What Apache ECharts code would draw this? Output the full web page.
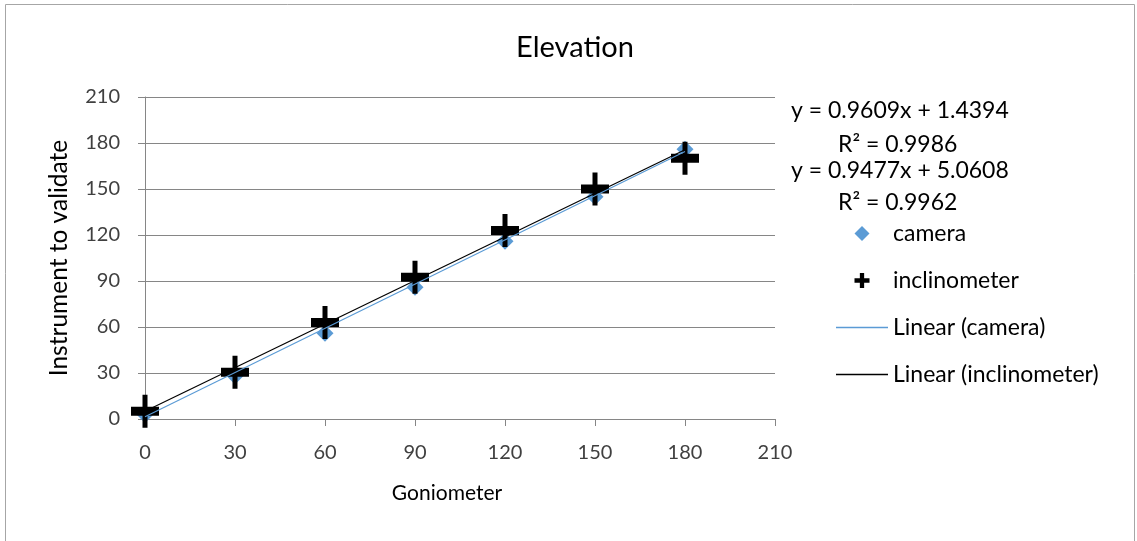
<!DOCTYPE html>
<html>
<head>
<meta charset="utf-8">
<title>Elevation</title>
<script src="https://cdn.jsdelivr.net/npm/echarts@6/dist/echarts.min.js"></script>
<style>
  html, body { margin: 0; padding: 0; background: #ffffff; }
  #chart { width: 1137px; height: 541px; }
</style>
</head>
<body>
<div id="chart"></div>
<script>
// Goniometer reference angles (x) and the readings of each instrument (y)
var goniometer   = [0, 30, 60, 90, 120, 150, 180];
var camera       = [3, 28, 56, 86, 116, 145, 176];
var inclinometer = [5, 30.5, 63, 92.5, 123, 150, 170];

// Linear fits: [slope, intercept, R²]
var cameraFit       = [0.9609, 1.4394, 0.9986];
var inclinometerFit = [0.9477, 5.0608, 0.9962];

// Axis ticks
var axisTicks = [0, 30, 60, 90, 120, 150, 180, 210];

var FONT = 'Lato, "Open Sans", sans-serif';
var BLUE = '#5b9bd5';

function pairs(xs, ys) {
  return xs.map(function (x, i) { return [x, ys[i]]; });
}
function fitLine(fit) {
  var x0 = goniometer[0], x1 = goniometer[goniometer.length - 1];
  return [[x0, fit[0] * x0 + fit[1]], [x1, fit[0] * x1 + fit[1]]];
}
function eqText(fit) {
  return 'y = ' + fit[0].toFixed(4) + 'x + ' + fit[1].toFixed(4);
}
function r2Text(fit) {
  return 'R\u00b2 = ' + fit[2].toFixed(4);
}

var crossPath = 'path://M11.5,0H16.5V12H28V21H16.5V33H11.5V21H0V12H11.5Z';
var crossIcon = 'path://M5,0H9V5H14V9H9V14H5V9H0V5H5Z';
var diamondIcon = 'path://M7,0L14,7L7,14L0,7Z';
var lineIcon = 'path://M0,0H52V1.3H0Z';

var chart = echarts.init(document.getElementById('chart'), null, { renderer: 'canvas' });

var axisCommon = {
  type: 'value',
  min: axisTicks[0],
  max: axisTicks[axisTicks.length - 1],
  interval: 30,
  axisLine: { show: true, lineStyle: { color: '#868686', width: 1 } },
  axisTick: { show: true, inside: false, length: 7, lineStyle: { color: '#868686' } },
  axisLabel: { color: '#404040', fontFamily: FONT, fontSize: 20 },
  nameTextStyle: { color: '#000000', fontFamily: FONT, fontSize: 21 }
};

var textFont = '23px ' + FONT;

chart.setOption({
  backgroundColor: '#ffffff',
  animation: false,
  title: {
    text: 'Elevation',
    left: 570,
    top: 28,
    textAlign: 'center',
    textStyle: { color: '#000000', fontFamily: FONT, fontSize: 29, fontWeight: 'normal' }
  },
  grid: { left: 145, right: 362, top: 97, bottom: 122, containLabel: false },
  xAxis: Object.assign({}, axisCommon, {
    name: 'Goniometer',
    nameLocation: 'middle',
    nameGap: 64,
    nameTextStyle: Object.assign({}, axisCommon.nameTextStyle, { padding: [0, 26, 0, 0] }),
    axisLabel: Object.assign({}, axisCommon.axisLabel, { margin: 24 }),
    splitLine: { show: false }
  }),
  yAxis: Object.assign({}, axisCommon, {
    name: 'Instrument to validate',
    nameLocation: 'middle',
    nameGap: 73,
    nameTextStyle: Object.assign({}, axisCommon.nameTextStyle, { fontSize: 24.5 }),
    axisLabel: Object.assign({}, axisCommon.axisLabel, { margin: 25 }),
    splitLine: { show: true, lineStyle: { color: '#868686', width: 1 } }
  }),
  legend: {
    orient: 'vertical',
    left: 831,
    top: 217,
    itemWidth: 52,
    itemHeight: 15,
    itemGap: 24,
    textStyle: { color: '#000000', fontFamily: FONT, fontSize: 23 },
    data: [
      { name: 'camera', icon: diamondIcon },
      { name: 'inclinometer', icon: crossIcon },
      { name: 'Linear (camera)', icon: lineIcon, itemStyle: { color: BLUE } },
      { name: 'Linear (inclinometer)', icon: lineIcon, itemStyle: { color: '#000000' } }
    ]
  },
  graphic: [
    {
      type: 'rect', silent: true, z: -1,
      shape: { x: 5.5, y: 4.5, width: 1129, height: 560 },
      style: { fill: 'none', stroke: '#a6a6a6', lineWidth: 1 }
    },
    {
      type: 'text', left: 791, top: 99,
      style: { text: eqText(cameraFit), fill: '#000000', font: textFont }
    },
    {
      type: 'text', left: 838, top: 133,
      style: { text: r2Text(cameraFit), fill: '#000000', font: textFont }
    },
    {
      type: 'text', left: 791, top: 159,
      style: { text: eqText(inclinometerFit), fill: '#000000', font: textFont }
    },
    {
      type: 'text', left: 838, top: 191,
      style: { text: r2Text(inclinometerFit), fill: '#000000', font: textFont }
    }
  ],
  series: [
    {
      name: 'camera',
      type: 'scatter',
      symbol: 'diamond',
      symbolSize: 17,
      itemStyle: { color: BLUE, opacity: 1 },
      data: pairs(goniometer, camera),
      z: 2
    },
    {
      name: 'inclinometer',
      type: 'scatter',
      symbol: crossPath,
      symbolSize: [28, 33],
      itemStyle: { color: '#000000', opacity: 1 },
      data: pairs(goniometer, inclinometer),
      z: 3
    },
    {
      name: 'Linear (camera)',
      type: 'line',
      symbol: 'none',
      lineStyle: { color: BLUE, width: 1.2 },
      itemStyle: { color: BLUE },
      data: fitLine(cameraFit),
      z: 4
    },
    {
      name: 'Linear (inclinometer)',
      type: 'line',
      symbol: 'none',
      lineStyle: { color: '#000000', width: 1.2 },
      itemStyle: { color: '#000000' },
      data: fitLine(inclinometerFit),
      z: 5
    }
  ]
});
</script>
</body>
</html>
